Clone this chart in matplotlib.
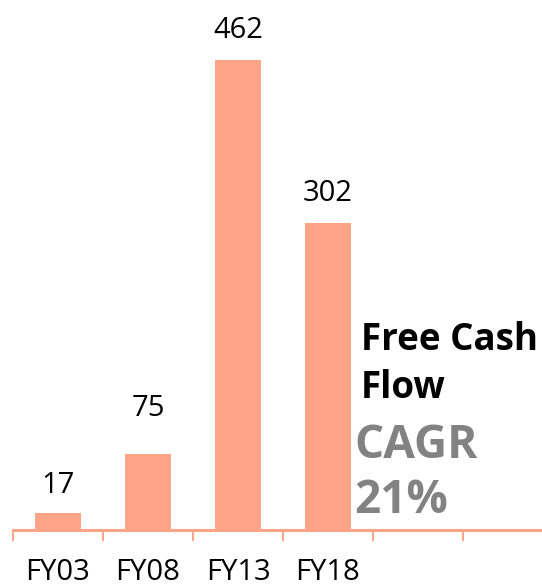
import matplotlib
matplotlib.use("Agg")
import matplotlib.pyplot as plt
import numpy as np

# data
categories = ["FY03", "FY08", "FY13", "FY18", "", ""]
values = [17, 75, 462, 302]
value_labels = ["17", "75", "462", "302"]

BAR_COLOR = "#FFA487"
AXIS_COLOR = "#FFA487"
GRAY = "#828282"

plt.rcParams["font.family"] = ["Open Sans", "DejaVu Sans"]

fig = plt.figure(figsize=(5.42, 5.84), dpi=100)
# axes extends a bit past the right edge (chart was cropped)
ax = fig.add_axes([13 / 542, 54 / 584, 540 / 542, 530 / 584])

x = np.arange(len(categories))
bars = ax.bar(x[:len(values)], values, width=0.52, color=BAR_COLOR)

# value labels above bars
label_offsets = [13, 31, 15, 15]  # px above bar top
for xi, v, lab, off in zip(x, values, value_labels, label_offsets):
    ax.annotate(lab, (xi, v), xytext=(0, off * 0.72), textcoords="offset points",
                ha="center", va="bottom", fontsize=21, color="black")

ax.set_xlim(-0.5, len(categories) - 0.5)
ax.set_ylim(0, 521)

# ticks on category boundaries, labels at centres
ax.set_xticks(np.arange(len(categories) + 1) - 0.5)
ax.set_xticklabels([])
ax.set_xticks(x, minor=True)
ax.set_xticklabels(categories, minor=True, fontsize=21)
ax.tick_params(axis="x", which="major", direction="out", length=8,
               width=1.4, color=AXIS_COLOR)
ax.tick_params(axis="x", which="minor", length=0, pad=20)
ax.set_yticks([])

for s in ["top", "right", "left"]:
    ax.spines[s].set_visible(False)
ax.spines["bottom"].set_color(AXIS_COLOR)
ax.spines["bottom"].set_linewidth(2.2)

# side annotation
fig.text(361 / 542, 1 - 350 / 584, "Free Cash", fontsize=26.5, fontweight="bold",
         color="black", va="baseline", ha="left")
fig.text(361 / 542, 1 - 398 / 584, "Flow", fontsize=26.5, fontweight="bold",
         color="black", va="baseline", ha="left")
fig.text(354 / 542, 1 - 458 / 584, "CAGR", fontsize=33, fontweight="bold",
         color=GRAY, va="baseline", ha="left")
fig.text(354 / 542, 1 - 513 / 584, "21%", fontsize=33, fontweight="bold",
         color=GRAY, va="baseline", ha="left")

fig.savefig("out.png", dpi=100)
